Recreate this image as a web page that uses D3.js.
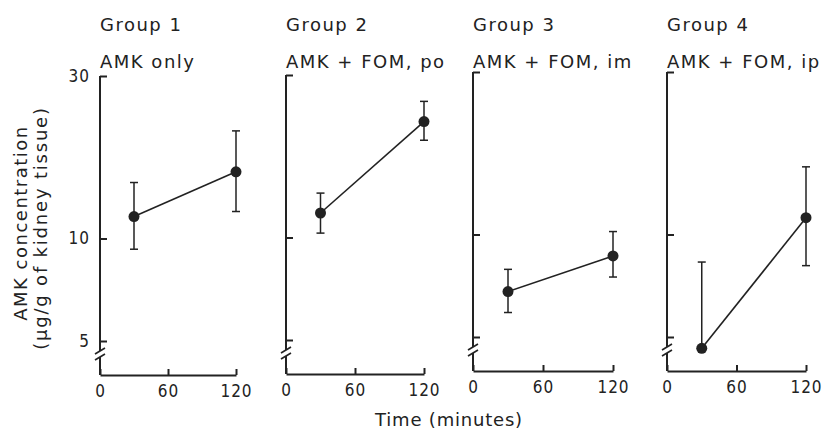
<!DOCTYPE html>
<html>
<head>
<meta charset="utf-8">
<script src="https://cdn.jsdelivr.net/npm/d3@7"></script>
<style>
  body { margin: 0; background: #fff; }
  svg { display: block; }
  .title { font-family: "DejaVu Sans", sans-serif; font-size: 18px; letter-spacing: 1.5px; fill: #222; }
  .tick text { font-family: "DejaVu Sans Condensed", "DejaVu Sans", sans-serif; font-size: 17px; letter-spacing: 1px; }
  .lab { font-family: "DejaVu Sans", sans-serif; font-size: 18px; fill: #222; }
</style>
</head>
<body>
<script>
var groups = ["Group 1", "Group 2", "Group 3", "Group 4"];
var treatments = ["AMK only", "AMK + FOM, po", "AMK + FOM, im", "AMK + FOM, ip"];
var times = [30, 120];
var means = [[11.6, 15.7], [11.8, 21.9], [6.8, 8.65], [4.63, 11.2]];
var upper = [[14.6, 20.7], [13.5, 25.1], [7.9, 10.2], [8.3, 15.8]];
var lower = [[9.3, 12.0], [10.3, 19.3], [5.9, 7.5], [null, 8.1]];
var yTicks = [5, 10, 30];
var xTicks = [0, 60, 120];

var svgWidth = 824, svgHeight = 429;
var panelLeft = [100, 286, 473, 667],
    panelTop = [76, 75, 72, 72],
    panelW = [136, 138, 140, 139],
    logH = 265, axisH = 299;

var svg = d3.select("body").append("svg").attr("width", svgWidth).attr("height", svgHeight);

groups.forEach(function(g, i) {
  var x0 = panelLeft[i], y0 = panelTop[i];
  var chart = svg.append("g").attr("transform", "translate(" + x0 + "," + y0 + ")");

  var xScale = d3.scaleLinear().domain([0, 120]).range([0, panelW[i]]);
  var yScale = d3.scaleLog().domain([5, 30]).range([logH, 0]);

  // titles
  svg.append("text").attr("class", "title").attr("x", x0).attr("y", 31).text(g);
  svg.append("text").attr("class", "title").attr("x", x0).attr("y", 68).text(treatments[i]);

  // y axis with break
  var yAxis = d3.axisLeft(yScale).tickValues(yTicks).tickSizeInner(-7).tickSizeOuter(0)
      .tickPadding(10).tickFormat(i === 0 ? d3.format("d") : "");
  var ya = chart.append("g").call(yAxis);
  ya.select(".domain").remove();
  ya.selectAll("line").attr("stroke", "#222").attr("stroke-width", 2);

  var yb = yScale(5) + 10;
  chart.append("path")
      .attr("d", "M0,0V" + (yb) + "M0," + (yb + 6) + "V" + axisH)
      .attr("fill", "none").attr("stroke", "#222").attr("stroke-width", 2);
  [yb, yb + 6].forEach(function(b) {
    chart.append("line").attr("x1", -5).attr("y1", b + 3).attr("x2", 5).attr("y2", b - 3)
        .attr("stroke", "#222").attr("stroke-width", 1.6);
  });

  // x axis
  var xa = chart.append("g").attr("transform", "translate(0," + axisH + ")")
      .call(d3.axisBottom(xScale).tickValues(xTicks).tickSizeInner(-6).tickSizeOuter(0).tickPadding(10));
  xa.select(".domain").attr("stroke", "#222").attr("stroke-width", 2);
  xa.selectAll("line").attr("stroke", "#222").attr("stroke-width", 2);

  var pts = times.map(function(t, j) {
    return {t: t, m: means[i][j], hi: upper[i][j], lo: lower[i][j]};
  });

  // error bars
  pts.forEach(function(d) {
    var cx = xScale(d.t);
    var top = yScale(d.hi), bot = d.lo === null ? yScale(d.m) : yScale(d.lo);
    chart.append("line").attr("x1", cx).attr("x2", cx).attr("y1", top).attr("y2", bot)
        .attr("stroke", "#222").attr("stroke-width", 1.5);
    chart.append("line").attr("x1", cx - 4).attr("x2", cx + 4).attr("y1", top).attr("y2", top)
        .attr("stroke", "#222").attr("stroke-width", 1.5);
    if (d.lo !== null) {
      chart.append("line").attr("x1", cx - 4).attr("x2", cx + 4).attr("y1", bot).attr("y2", bot)
          .attr("stroke", "#222").attr("stroke-width", 1.5);
    }
  });

  chart.append("path").datum(pts)
      .attr("d", d3.line().x(function(d) { return xScale(d.t); }).y(function(d) { return yScale(d.m); }))
      .attr("fill", "none").attr("stroke", "#222").attr("stroke-width", 1.6);

  chart.selectAll(".dot").data(pts).enter().append("circle")
      .attr("cx", function(d) { return xScale(d.t); })
      .attr("cy", function(d) { return yScale(d.m); })
      .attr("r", 5.5).attr("fill", "#222");
});

svg.selectAll(".tick text").attr("fill", "#222");

// axis labels
svg.append("text").attr("class", "lab").attr("text-anchor", "middle").style("letter-spacing", "1.5px")
    .attr("transform", "translate(27,223)rotate(-90)").text("AMK concentration");
svg.append("text").attr("class", "lab").attr("text-anchor", "middle").style("letter-spacing", "1.8px")
    .attr("transform", "translate(47,228)rotate(-90)").text("(\u00b5g/g of kidney tissue)");
svg.append("text").attr("class", "lab").attr("text-anchor", "middle").style("letter-spacing", "0.8px")
    .attr("x", 449).attr("y", 426).text("Time (minutes)");
</script>
</body>
</html>
